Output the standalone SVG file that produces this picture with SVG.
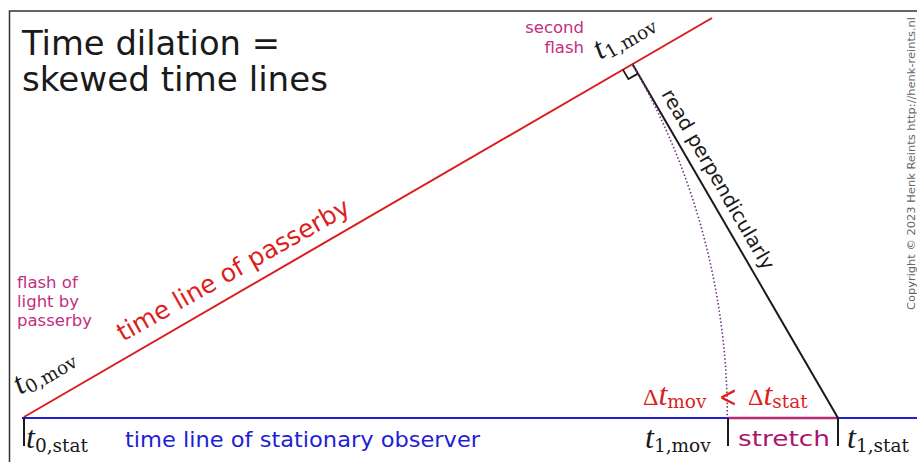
<svg xmlns="http://www.w3.org/2000/svg" width="917" height="462" viewBox="0 0 917 462">
<style>
.sans{font-family:"DejaVu Sans","Liberation Sans",sans-serif}
.ser{font-family:"Liberation Serif","DejaVu Serif",serif}
.it{font-style:italic;font-family:"Liberation Serif","DejaVu Serif",serif}
.sub{font-family:"DejaVu Serif","Liberation Serif",serif;font-size:18.5px}
.mag{fill:#c0307f}
.red{fill:#dc1f1f}
.blk{fill:#1a1a1a}
.blue{fill:#1f1fd6}
.tick{stroke:#1a1a1a;stroke-width:2;fill:none}
</style>
<rect width="917" height="462" fill="#ffffff"/>
<path d="M9.5,462 V11 H917" fill="none" stroke="#333" stroke-width="1.5"/>

<g id="connectors">
  <line id="passerby-line" x1="24" y1="417" x2="712" y2="18" stroke="#d91e1e" stroke-width="2"/>
  <line id="stationary-line" x1="22" y1="418" x2="917" y2="418" stroke="#1f1fd6" stroke-width="2"/>
  <line id="stretch-seg" x1="728" y1="418" x2="838" y2="418" stroke="#b52a72" stroke-width="2.5"/>
  <line id="perp-line" x1="632.4" y1="64.1" x2="838" y2="418" stroke="#1a1a1a" stroke-width="2"/>
  <path id="arc" d="M632.4,64.1 A703.3,703.3 0 0 1 727.3,417" fill="none" stroke="#6f3585" stroke-width="1.6" stroke-dasharray="1.5 2.2"/>
  <polyline id="right-angle" points="622.9,69.6 628.4,79.1 637.9,73.6" fill="none" stroke="#1a1a1a" stroke-width="1.8"/>
  <line class="tick" x1="24" y1="418" x2="24" y2="446"/>
  <line class="tick" x1="728" y1="418" x2="728" y2="446"/>
  <line class="tick" x1="838" y1="418" x2="838" y2="446"/>
</g>

<g id="title">
  <text class="sans blk" x="22" y="55" font-size="33" textLength="258" lengthAdjust="spacingAndGlyphs">Time dilation =</text>
  <text class="sans blk" x="22" y="91" font-size="33" textLength="306" lengthAdjust="spacingAndGlyphs">skewed time lines</text>
</g>

<g id="second-flash">
  <text class="sans mag" x="584" y="33" font-size="16.5" text-anchor="end">second</text>
  <text class="sans mag" x="584" y="53" font-size="16.5" text-anchor="end">flash</text>
</g>

<g id="first-flash">
  <text class="sans mag" x="17" y="288" font-size="16.5">flash of</text>
  <text class="sans mag" x="17" y="307" font-size="16.5">light by</text>
  <text class="sans mag" x="17" y="326" font-size="16.5">passerby</text>
</g>

<g id="t0-mov" transform="translate(20,395) rotate(-30.1)">
  <text class="blk" x="0" y="0"><tspan class="it" font-size="32">t</tspan><tspan class="sub" dy="4">0,mov</tspan></text>
</g>

<g id="t1-mov-top" transform="translate(600,60) rotate(-30.1)">
  <text class="blk" x="0" y="0"><tspan class="it" font-size="32">t</tspan><tspan class="sub" dy="4">1,mov</tspan></text>
</g>

<g id="passerby-label" transform="translate(123,342) rotate(-29.5)">
  <text class="sans red" x="0" y="0" font-size="25" textLength="263" lengthAdjust="spacingAndGlyphs">time line of passerby</text>
</g>

<g id="perp-label" transform="translate(661,94) rotate(59.9)">
  <text class="sans blk" x="0" y="0" font-size="19.5" textLength="205" lengthAdjust="spacingAndGlyphs">read perpendicularly</text>
</g>

<g id="delta-label">
  <text class="red" x="643" y="405"><tspan class="ser" font-size="24">Δ</tspan><tspan class="it" font-size="32">t</tspan><tspan class="sub" dy="3">mov</tspan></text>
  <text class="sans red" transform="translate(719,407) scale(0.72,1)" x="0" y="0" font-size="30">&lt;</text>
  <text class="red" x="748" y="405"><tspan class="ser" font-size="24">Δ</tspan><tspan class="it" font-size="32">t</tspan><tspan class="sub" dy="3">stat</tspan></text>
</g>

<g id="t0-stat">
  <text class="blk" x="26" y="448"><tspan class="it" font-size="32">t</tspan><tspan class="sub" dy="4">0,stat</tspan></text>
</g>

<g id="stationary-label">
  <text class="sans blue" x="125" y="447" font-size="22" textLength="355" lengthAdjust="spacingAndGlyphs">time line of stationary observer</text>
</g>

<g id="t1-mov-bottom">
  <text class="blk" x="645" y="448"><tspan class="it" font-size="32">t</tspan><tspan class="sub" dy="4">1,mov</tspan></text>
</g>

<g id="stretch-label">
  <text class="sans" x="738" y="446" font-size="22" fill="#a8166e" textLength="92" lengthAdjust="spacingAndGlyphs">stretch</text>
</g>

<g id="t1-stat">
  <text class="blk" x="847" y="448"><tspan class="it" font-size="32">t</tspan><tspan class="sub" dy="4">1,stat</tspan></text>
</g>

<g id="copyright" transform="translate(915,310) rotate(-90)">
  <text class="sans" x="0" y="0" font-size="11" fill="#666" textLength="293" lengthAdjust="spacingAndGlyphs">Copyright © 2023 Henk Reints http://henk-reints.nl</text>
</g>
</svg>
